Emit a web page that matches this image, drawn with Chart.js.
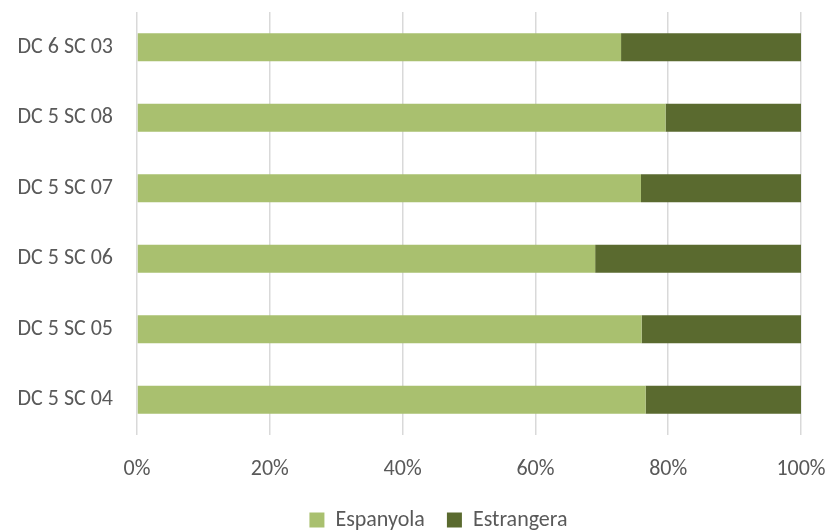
<!DOCTYPE html>
<html>
<head>
<meta charset="utf-8">
<script src="https://cdn.jsdelivr.net/npm/chart.js@4/dist/chart.umd.min.js"></script>
<style>
  html, body { margin: 0; padding: 0; background: #fff; }
  #wrap { width: 833px; height: 530px; }
</style>
</head>
<body>
<div id="wrap"><canvas id="chart"></canvas></div>
<script>
const categories = ["DC 6 SC 03", "DC 5 SC 08", "DC 5 SC 07", "DC 5 SC 06", "DC 5 SC 05", "DC 5 SC 04"];
const espanyola = [72.9, 79.6, 75.9, 69.0, 76.0, 76.6];
const estrangera = [27.1, 20.4, 24.1, 31.0, 24.0, 23.4];
const xTicks = [0, 20, 40, 60, 80, 100];

const fontFamily = "Calibri, Carlito, Lato, 'Noto Sans', sans-serif";
const textColor = "#595959";

// keep the legend short and a bit right of centre, like the original
const legendFix = {
  id: "legendFix",
  afterInit(chart) {
    const lg = chart.legend;
    const fit = lg.fit.bind(lg);
    lg.fit = function () {
      fit();
      this.height = 43;
    };
  },
  afterLayout(chart) {
    chart.legend.left += 38;
    chart.legend.right += 38;
  }
};

new Chart(document.getElementById("chart"), {
  type: "bar",
  data: {
    labels: categories,
    datasets: [
      { label: "Espanyola", data: espanyola, backgroundColor: "#a9c06f" },
      { label: "Estrangera", data: estrangera, backgroundColor: "#5a6a2f" }
    ]
  },
  plugins: [legendFix],
  options: {
    indexAxis: "y",
    responsive: true,
    maintainAspectRatio: false,
    animation: false,
    barPercentage: 0.4,
    categoryPercentage: 1,
    layout: { padding: { left: 0, right: 32, top: 12, bottom: 0 } },
    scales: {
      x: {
        stacked: true,
        min: 0,
        max: 100,
        afterBuildTicks: (axis) => { axis.ticks = xTicks.map(v => ({ value: v })); },
        afterFit: (axis) => {
          axis.height = 52;
          axis.paddingLeft = 0;
          axis.paddingRight = 0;
        },
        border: { display: false },
        grid: { color: "#d9d9d9", lineWidth: 1.5, drawTicks: false },
        ticks: {
          padding: 21,
          color: textColor,
          font: { family: fontFamily, size: 22 },
          callback: (v) => v + "%"
        }
      },
      y: {
        stacked: true,
        afterFit: (axis) => {
          axis.width = 137;
          axis.paddingTop = 0;
          axis.paddingBottom = 0;
        },
        border: { display: false },
        grid: { display: false },
        ticks: {
          padding: 16,
          color: textColor,
          font: { family: fontFamily, size: 22 }
        }
      }
    },
    plugins: {
      tooltip: { enabled: false },
      legend: {
        position: "bottom",
        labels: {
          color: textColor,
          font: { family: fontFamily, size: 22 },
          boxWidth: 15,
          boxHeight: 15,
          padding: 22
        }
      }
    }
  }
});
</script>
</body>
</html>
